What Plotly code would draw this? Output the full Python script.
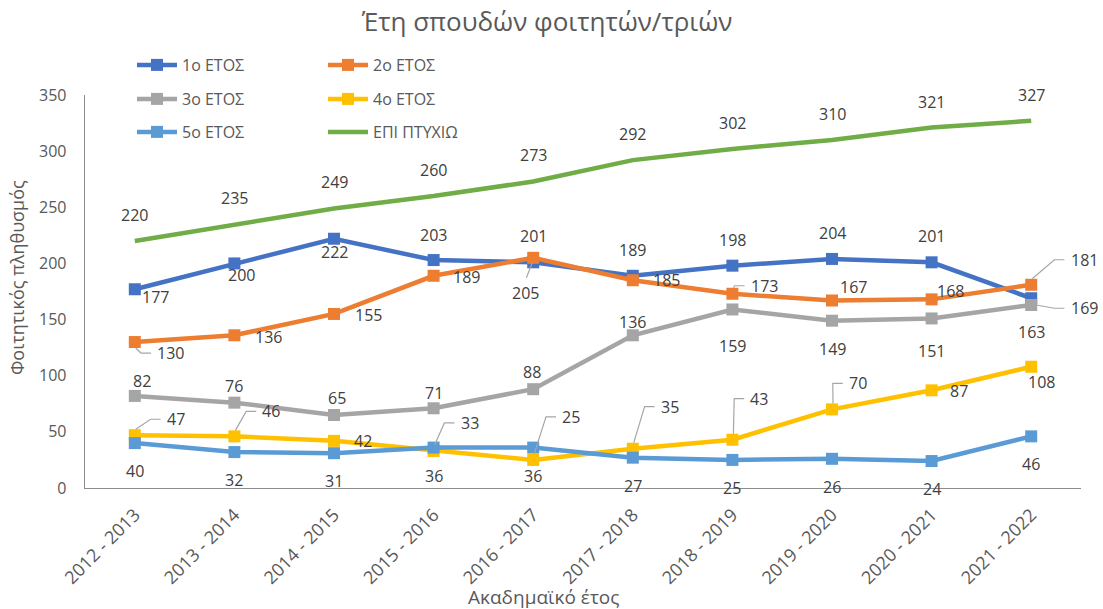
import plotly.graph_objects as go

# ---------------- data ----------------
years = ["2012 - 2013", "2013 - 2014", "2014 - 2015", "2015 - 2016", "2016 - 2017",
         "2017 - 2018", "2018 - 2019", "2019 - 2020", "2020 - 2021", "2021 - 2022"]

names = ["1ο ΕΤΟΣ", "2ο ΕΤΟΣ", "3ο ΕΤΟΣ", "4ο ΕΤΟΣ", "5ο ΕΤΟΣ", "ΕΠΙ ΠΤΥΧΙΩ"]

year1 = [177, 200, 222, 203, 201, 189, 198, 204, 201, 169]
year2 = [130, 136, 155, 189, 205, 185, 173, 167, 168, 181]
year3 = [82, 76, 65, 71, 88, 136, 159, 149, 151, 163]
year4 = [47, 46, 42, 33, 25, 35, 43, 70, 87, 108]
year5 = [40, 32, 31, 36, 36, 27, 25, 26, 24, 46]
graduate = [220, 235, 249, 260, 273, 292, 302, 310, 321, 327]

title_text = "Έτη σπουδών φοιτητών/τριών"
x_title = "Ακαδημαϊκό έτος"
y_title = "Φοιτητικός πληθυσμός"

# ---------------- styling ----------------
colors = ["#4472C4", "#ED7D31", "#A5A5A5", "#FFC000", "#5B9BD5", "#70AD47"]
show_markers = [True, True, True, True, True, False]
legend_ids = ["legend", "legend", "legend2", "legend2", "legend3", "legend3"]

# data label offsets in screen pixels (dx right, dy down) and leader type
lab1 = [(21, 8, None), (7, 12, None), (0, 13, None), (0, -25, None), (0, -26, None),
        (0, -26, None), (0, -26, None), (0, -26, None), (0, -26, None), (53, 10, "e")]
lab2 = [(36, 11, "e"), (34, 2, None), (34, 1, None), (33, 1, None), (-8, 35, "s"),
        (34, 0, None), (32, -8, "e"), (21, -13, None), (19, -8, None), (53, -25, "e")]
lab3 = [(7, -15, None), (0, -17, None), (3, -17, None), (0, -15, None), (-1, -17, None),
        (0, -13, None), (0, 37, None), (0, 28, None), (0, 33, None), (0, 27, None)]
lab4 = [(41, -16, "e"), (37, -25, "e"), (29, 0, None), (36, -28, "e"), (38, -43, "e"),
        (37, -42, "e"), (27, -41, "e"), (26, -26, "e"), (27, 1, None), (10, 15, None)]
lab5 = [(0, 28, None)] * 10
lab6 = [(0, -26, None)] * 10

series = [year1, year2, year3, year4, year5, graduate]
labels = [lab1, lab2, lab3, lab4, lab5, lab6]

FONT = "Open Sans, Noto Sans, sans-serif"
TXT = "#595959"
LAB = "#404040"
LEADER = "#A6A6A6"
W, H = 1103, 609

x_idx = list(range(len(years)))

fig = go.Figure()
for name, vals, col, mk, lg in zip(names, series, colors, show_markers, legend_ids):
    fig.add_trace(go.Scatter(
        x=x_idx, y=vals, name=name, legend=lg,
        mode="lines+markers" if mk else "lines",
        line=dict(color=col, width=4.5),
        marker=dict(symbol="square", size=12, color=col),
        hoverinfo="skip",
    ))

annotations = []
shapes = []
for vals, labs in zip(series, labels):
    for i, (v, (dx, dy, leader)) in enumerate(zip(vals, labs)):
        annotations.append(dict(
            x=i, y=v, xref="x", yref="y", text=str(v), showarrow=False,
            xshift=dx, yshift=-dy, xanchor="center", yanchor="middle",
            font=dict(family=FONT, size=16, color=LAB),
        ))
        if leader == "e":
            half = len(str(v)) * 4.6
            tx = dx - half
            sy = 6 if dy > 0 else -6
            pts = [(1, sy), (tx - 16, dy), (tx - 6, dy)]
        elif leader == "s":
            pts = [(-1, 5), (dx * 0.85, dy - 15)]
        else:
            continue
        path = "M" + " L".join(f"{px:.1f},{-py:.1f}" for px, py in pts)
        shapes.append(dict(
            type="path", xref="x", yref="y", xsizemode="pixel", ysizemode="pixel",
            xanchor=i, yanchor=v, path=path,
            line=dict(color=LEADER, width=1.2), layer="above",
        ))

# axis titles (placed like the original, off-centre)
annotations.append(dict(
    text=x_title, xref="paper", yref="paper", x=(543 - 85) / 996, y=(488 - 597) / 393,
    xanchor="center", yanchor="middle", showarrow=False,
    font=dict(family=FONT, size=19, color=TXT),
))
annotations.append(dict(
    text=y_title, xref="paper", yref="paper", x=(17 - 85) / 996, y=(488 - 278) / 393,
    xanchor="center", yanchor="middle", showarrow=False, textangle=-90,
    font=dict(family=FONT, size=18, color=TXT),
))

legend_common = dict(
    orientation="h", xref="container", yref="container", xanchor="left", yanchor="middle",
    entrywidth=136, entrywidthmode="pixels", bgcolor="rgba(0,0,0,0)",
    font=dict(family=FONT, size=16, color=TXT), itemwidth=40, tracegroupgap=0,
    itemclick=False, itemdoubleclick=False,
)
fig.update_layout(
    width=W, height=H,
    margin=dict(l=85, r=22, t=95, b=121, autoexpand=False),
    paper_bgcolor="white", plot_bgcolor="white",
    font=dict(family=FONT, color=TXT),
    title=dict(text=title_text, x=547 / W, xanchor="center",
               y=1 - 22 / H, yanchor="middle",
               font=dict(family=FONT, size=26, color=TXT)),
    xaxis=dict(range=[-0.5, 9.5], tickmode="array", tickvals=x_idx, ticktext=years,
               tickangle=-45, showgrid=False, zeroline=False, showline=True,
               linecolor="#8C8C8C", linewidth=1.3, ticks="", ticklabelstandoff=8,
               tickfont=dict(family=FONT, size=18, color=TXT)),
    yaxis=dict(range=[0, 350], dtick=50, showgrid=False, zeroline=False, showline=True,
               linecolor="#8C8C8C", linewidth=1.3, ticks="", ticklabelstandoff=14,
               tickfont=dict(family=FONT, size=16, color=TXT)),
    legend=dict(legend_common, x=132 / W, y=1 - 65 / H),
    legend2=dict(legend_common, x=132 / W, y=1 - 99 / H),
    legend3=dict(legend_common, x=132 / W, y=1 - 132 / H),
    annotations=annotations,
    shapes=shapes,
    showlegend=True,
)

fig.write_html("out.html", config={"displayModeBar": False, "staticPlot": True},
               post_script="document.body.style.margin='0';")
